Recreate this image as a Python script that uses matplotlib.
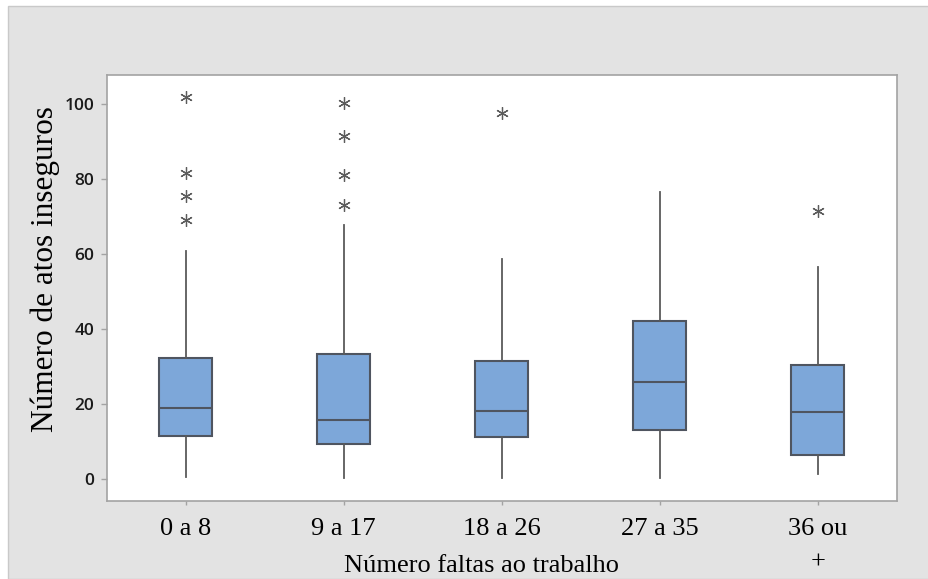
import matplotlib
matplotlib.use("Agg")
import matplotlib.pyplot as plt
from matplotlib.patches import Rectangle

# faixas de faltas e resumo de cinco números de cada caixa
groups = ["0 a 8", "9 a 17", "18 a 26", "27 a 35", "36 ou\n+"]
q1 = [11.3, 9.3, 11.2, 13.0, 6.3]
median = [18.9, 15.7, 18.1, 25.7, 17.7]
q3 = [32.1, 33.3, 31.4, 42.1, 30.2]
whislo = [0.5, 0.1, 0.1, 0.1, 1.3]
whishi = [60.6, 67.7, 58.6, 76.6, 56.4]
outliers = [
    [101.7, 81.5, 75.4, 69.0],
    [100.3, 91.5, 81.0, 73.0],
    [97.5],
    [],
    [71.3],
]
yticks = [0, 20, 40, 60, 80, 100]

W, H = 929, 579
fig = plt.figure(figsize=(W / 100, H / 100), dpi=100)
fig.patch.set_facecolor("white")

# fundo cinza do gráfico
fig.patches.append(
    Rectangle((8 / W, 0), 1 - 8 / W, 1 - 6 / H, transform=fig.transFigure,
              facecolor="#e3e3e3", edgecolor="#c9c9c9", linewidth=1.0, zorder=-10)
)

ax = fig.add_axes([106.7 / W, 78 / H, 790 / W, 426 / H])
ax.set_zorder(2)
ax.set_facecolor("white")

stats = []
for i, name in enumerate(groups):
    stats.append({
        "label": name,
        "q1": q1[i],
        "med": median[i],
        "q3": q3[i],
        "whislo": whislo[i],
        "whishi": whishi[i],
        "fliers": outliers[i],
    })

edge = "#4f5560"
ax.bxp(
    stats,
    positions=range(1, len(groups) + 1),
    widths=0.335,
    showcaps=False,
    patch_artist=True,
    boxprops=dict(facecolor="#7da7d9", edgecolor=edge, linewidth=1.5),
    medianprops=dict(color=edge, linewidth=1.5),
    whiskerprops=dict(color="#5a5a5a", linewidth=1.3),
    flierprops=dict(marker=(6, 2, 0), markersize=9, markeredgecolor="#5c5c5c",
                    markeredgewidth=0.9, linestyle="none"),
)

ax.set_xlim(0.5, 5.5)
ax.set_ylim(-6, 107.7)
ax.set_yticks(yticks)
ax.set_yticklabels([str(v) for v in yticks], fontfamily="Open Sans",
                   fontweight="semibold", fontsize=12.5, color="#1a1a1a")
ax.set_xticklabels(groups, fontfamily="Liberation Serif", fontsize=19,
                   linespacing=1.7)

for s in ax.spines.values():
    s.set_color("#a3a3a3")
    s.set_linewidth(1.2)
ax.tick_params(axis="y", length=4, width=1, color="#a3a3a3", pad=5)
ax.tick_params(axis="x", length=3, width=1, color="#a3a3a3", pad=9)

fig.text(45 / W, 1 - 269 / H, "Número de atos inseguros", rotation=90,
         ha="center", va="center", fontfamily="Liberation Serif", fontsize=22.5)
fig.text(482 / W, 1 - 571.5 / H, "Número faltas ao trabalho", ha="center",
         va="baseline", fontfamily="Liberation Serif", fontsize=19)

fig.savefig("out.png", dpi=100, facecolor=fig.get_facecolor())
